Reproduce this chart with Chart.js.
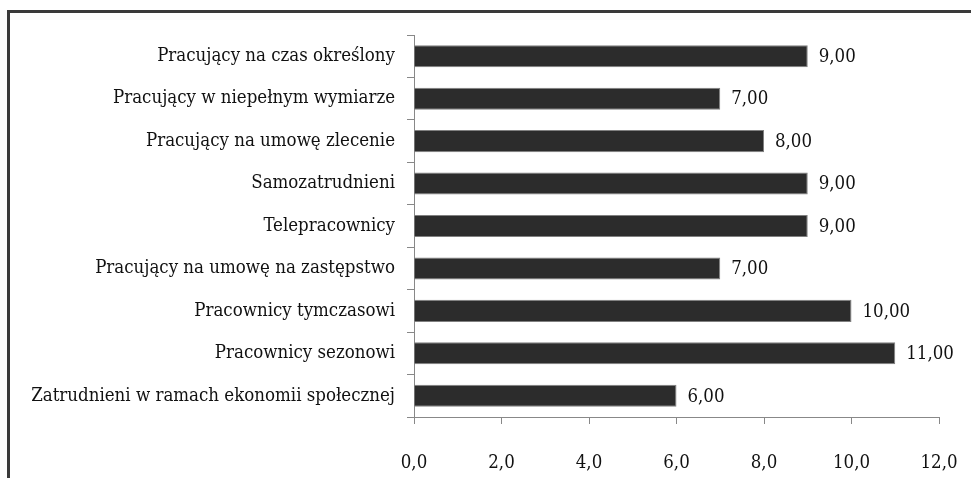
<!DOCTYPE html>
<html>
<head>
<meta charset="utf-8">
<script src="https://cdn.jsdelivr.net/npm/chart.js@4"></script>
<style>
    html, body { margin: 0; padding: 0; background: #fff; }
    #wrap { position: relative; width: 971px; height: 478px; overflow: hidden; }
    #frame {
        position: absolute; left: 7px; top: 10px; width: 1000px; height: 500px;
        border-top: 3px solid #3a3a3a; border-left: 3px solid #3a3a3a;
        pointer-events: none;
    }
</style>
</head>
<body>
<div id="wrap">
    <canvas id="barChart" width="971" height="478"></canvas>
    <div id="frame"></div>
</div>
<script>
const categories = [
    'Pracujący na czas określony',
    'Pracujący w niepełnym wymiarze',
    'Pracujący na umowę zlecenie',
    'Samozatrudnieni',
    'Telepracownicy',
    'Pracujący na umowę na zastępstwo',
    'Pracownicy tymczasowi',
    'Pracownicy sezonowi',
    'Zatrudnieni w ramach ekonomii społecznej'
];
const values = [9, 7, 8, 9, 9, 7, 10, 11, 6];
const xTicks = [0, 2, 4, 6, 8, 10, 12];

const fontFamily = '"DejaVu Serif Condensed", "DejaVu Serif", serif';
const fontSize = 18.5;

// draws the "9,00" style labels right of each bar
const valueLabels = {
    id: 'valueLabels',
    afterDatasetsDraw(chart) {
        const ctx = chart.ctx;
        const meta = chart.getDatasetMeta(0);
        ctx.save();
        ctx.font = fontSize + 'px ' + fontFamily;
        ctx.fillStyle = '#111';
        ctx.textAlign = 'left';
        ctx.textBaseline = 'middle';
        meta.data.forEach(function(bar, i) {
            ctx.fillText(values[i].toFixed(2).replace('.', ','), bar.x + 11, bar.y + 1);
        });
        ctx.restore();
    }
};

const ctx = document.getElementById('barChart').getContext('2d');
new Chart(ctx, {
    type: 'bar',
    data: {
        labels: categories,
        datasets: [{
            data: values,
            backgroundColor: '#2c2c2c',
            borderColor: '#808080',
            borderWidth: 1,
            categoryPercentage: 1,
            barPercentage: 0.52
        }]
    },
    options: {
        indexAxis: 'y',
        responsive: false,
        animation: false,
        layout: { padding: { left: 0, top: 35, right: 32, bottom: 0 } },
        plugins: {
            legend: { display: false },
            tooltip: { enabled: false }
        },
        scales: {
            x: {
                min: 0,
                max: 12,
                afterBuildTicks: function(scale) {
                    scale.ticks = xTicks.map(v => ({ value: v }));
                },
                afterFit: function(scale) {
                    scale.height = 61;
                    // the big tick padding would otherwise squeeze the plot from the right
                    scale.paddingLeft = 0;
                    scale.paddingRight = 0;
                },
                grid: { drawOnChartArea: false, drawTicks: true, tickLength: 7, color: '#888' },
                border: { display: true, color: '#888', width: 1 },
                ticks: {
                    color: '#111',
                    padding: 28,
                    font: { family: fontFamily, size: fontSize },
                    callback: function(value) { return value.toFixed(1).replace('.', ','); }
                }
            },
            y: {
                afterFit: function(scale) { scale.width = 414; },
                grid: { drawOnChartArea: false, drawTicks: true, tickLength: 7, color: '#888' },
                border: { display: true, color: '#888', width: 1 },
                ticks: {
                    color: '#111',
                    padding: 12,
                    font: { family: fontFamily, size: fontSize }
                }
            }
        }
    },
    plugins: [valueLabels]
});
</script>
</body>
</html>
